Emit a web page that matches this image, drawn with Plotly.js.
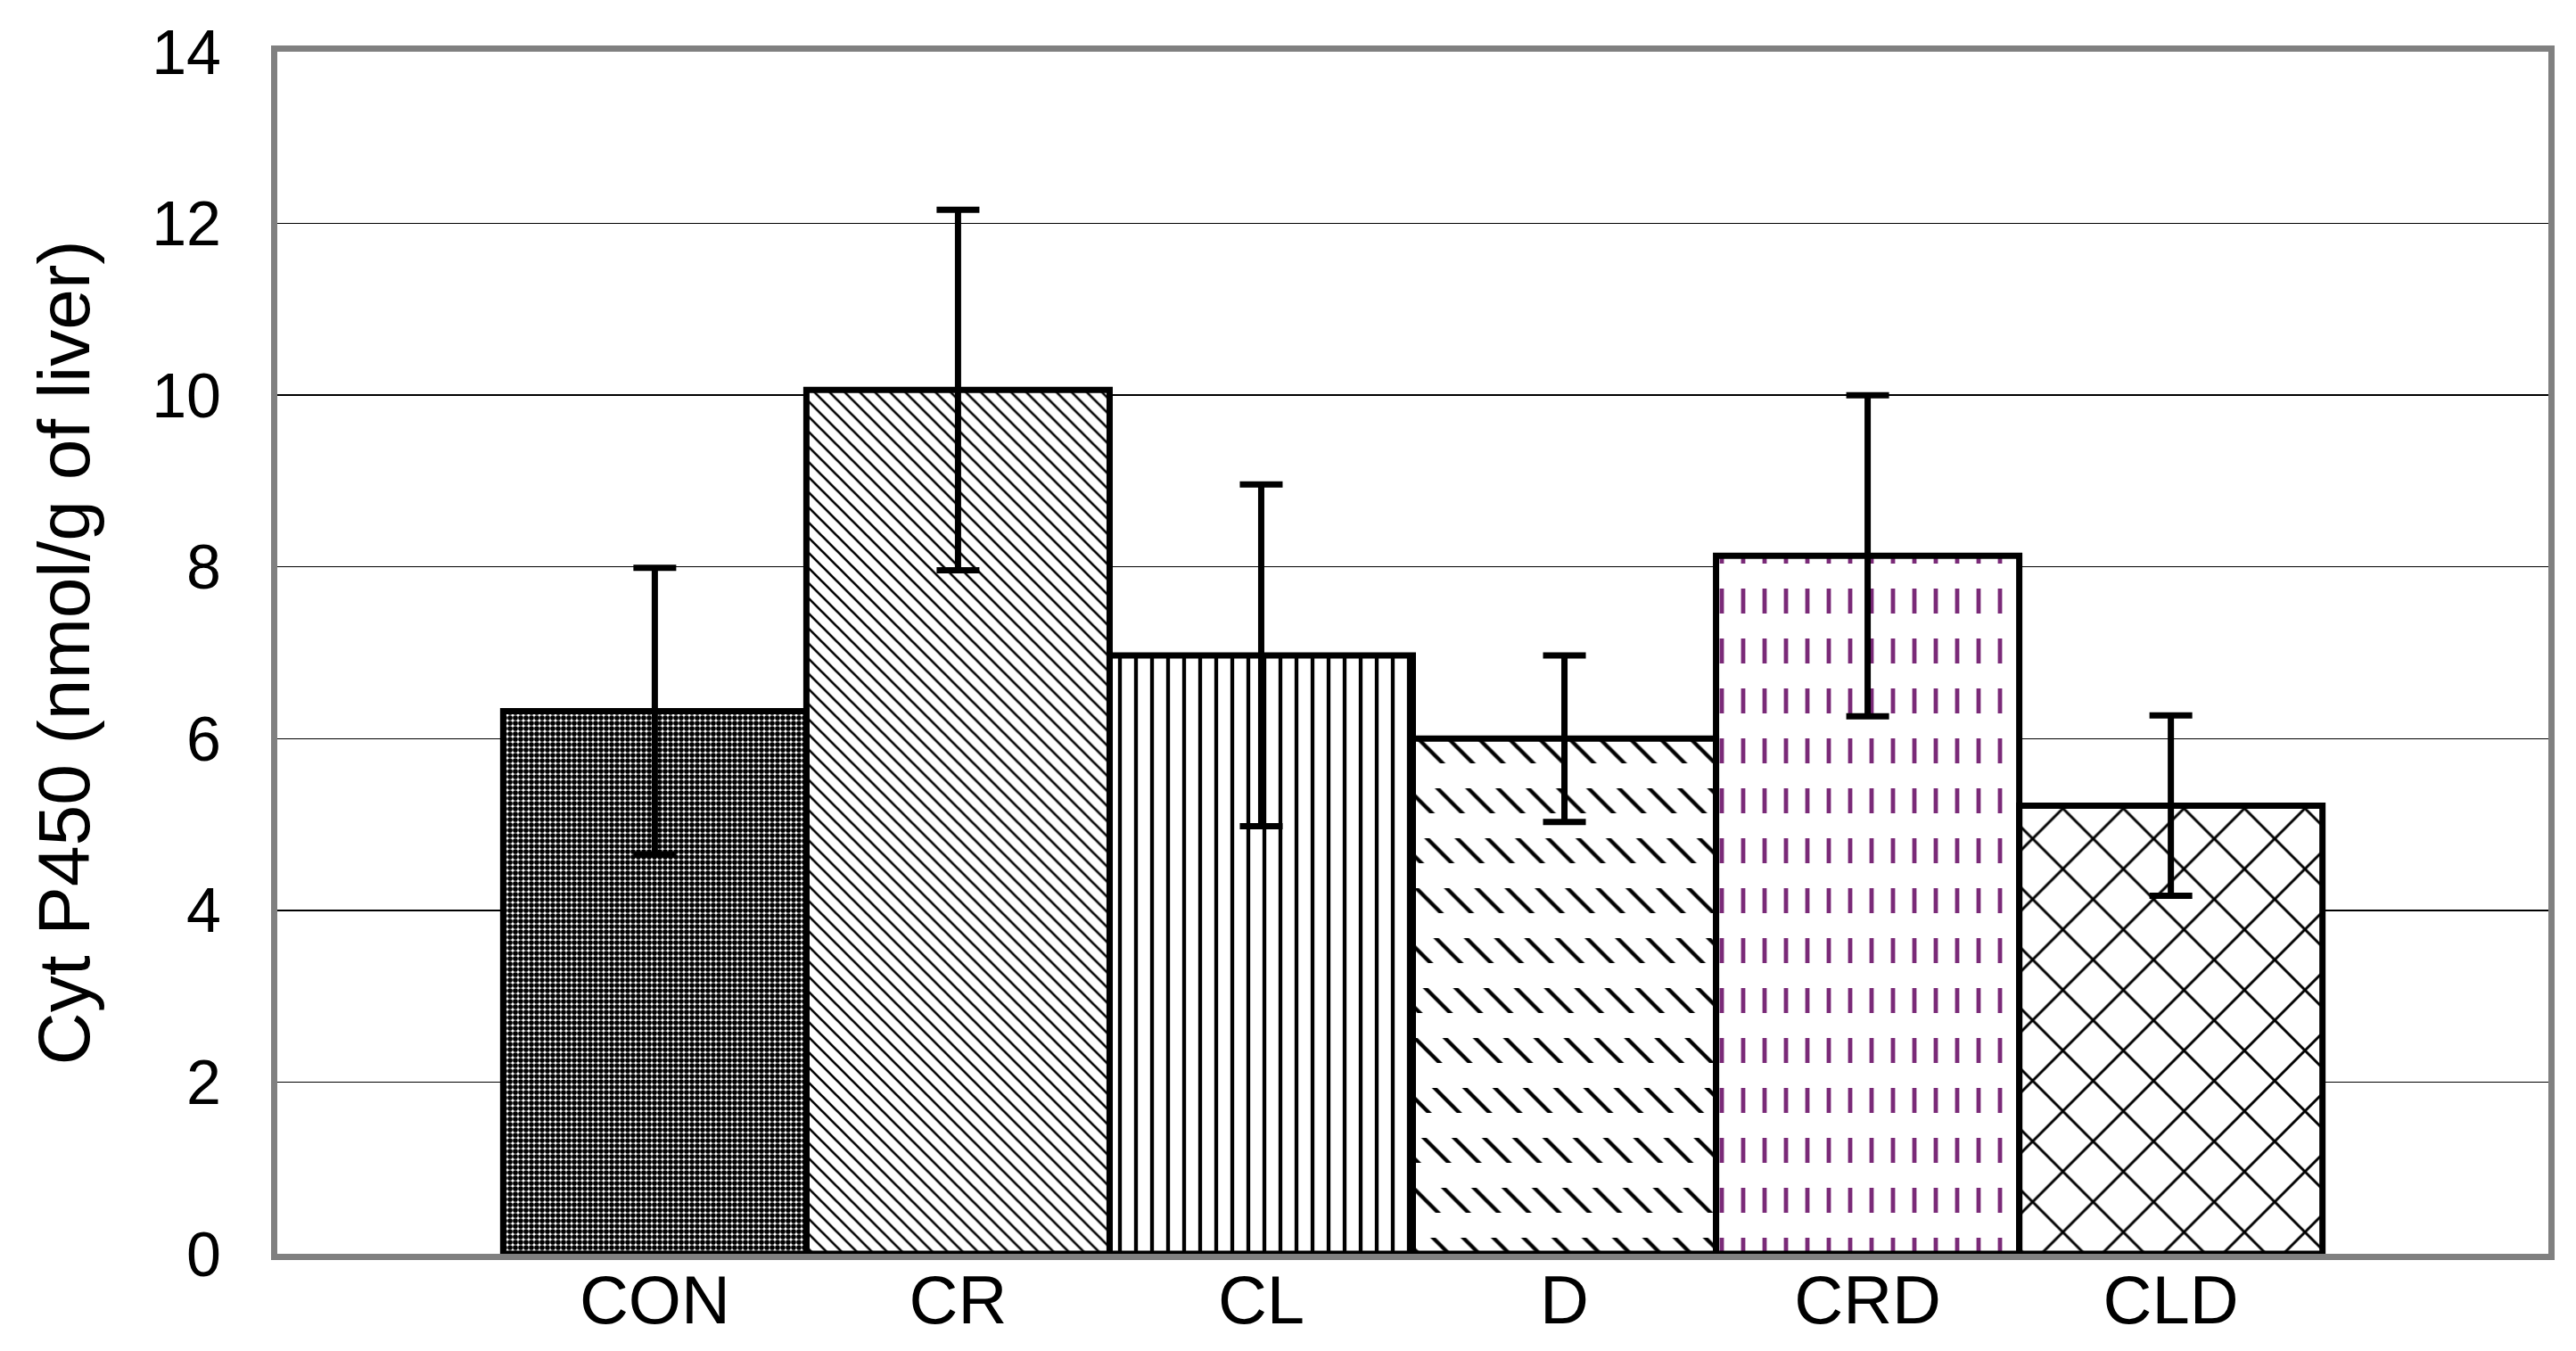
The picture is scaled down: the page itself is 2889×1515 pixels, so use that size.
<!DOCTYPE html>
<html>
<head>
<meta charset="utf-8">
<script src="https://cdn.plot.ly/plotly-3.0.1.min.js"></script>
<style>html,body{margin:0;padding:0;background:#fff;}#chart{width:2889px;height:1515px;}</style>
</head>
<body>
<div id="chart"></div>
<script>
// ---- data ----
const categories = ['CON', 'CR', 'CL', 'D', 'CRD', 'CLD'];
const cytP450 = [6.32, 10.06, 6.97, 6.0, 8.13, 5.22];
const cytP450Err = [1.67, 2.1, 1.99, 0.97, 1.87, 1.05];
const yTickVals = [0, 2, 4, 6, 8, 10, 12, 14];
const yTitle = 'Cyt P450 (nmol/g of liver)';

// ---- styles ----
const FONT = 'Liberation Sans, Arial, sans-serif';
const patShapes = ['.', '\\', '|', '\\', '|', 'x'];
const patSizes = [6, 12, 18, 24, 24, 48];
const patSolid = [0.7, 0.22, 0.24, 0.18, 0.2, 0.12];
const patFg = ['#000', '#000', '#000', '#000', '#7a2a78', '#000'];

// bars that get dashed (banded) patterns
const bandedCats = ['D', 'CRD'];
const bandedIdx = bandedCats.map(c => categories.indexOf(c));

const base = {
  type: 'bar', x: categories, y: cytP450,
  marker: {
    color: '#fff',
    line: {width: 0},
    pattern: {shape: patShapes, size: patSizes, solidity: patSolid,
              fgcolor: patFg, bgcolor: '#fff', fillmode: 'replace'}
  },
  hoverinfo: 'skip', showlegend: false
};

const bands = {
  type: 'bar', x: bandedIdx.map(i => categories[i]), y: bandedIdx.map(i => cytP450[i]),
  marker: {
    color: 'rgba(0,0,0,0)',
    line: {width: 0},
    pattern: {shape: '-', size: 56, solidity: 0.5, fgcolor: '#fff',
              bgcolor: 'rgba(0,0,0,0)', fillmode: 'replace'}
  },
  hoverinfo: 'skip', showlegend: false
};

const outline = {
  type: 'bar', x: categories, y: cytP450,
  marker: {color: 'rgba(0,0,0,0)', line: {color: '#000', width: 7}},
  error_y: {type: 'data', array: cytP450Err, visible: true,
            color: '#000', thickness: 7, width: 24},
  cliponaxis: false,
  hoverinfo: 'skip', showlegend: false
};

const layout = {
  width: 2889, height: 1515,
  margin: {l: 311, r: 31, t: 58, b: 109},
  paper_bgcolor: '#fff', plot_bgcolor: '#fff',
  barmode: 'overlay', bargap: 0,
  font: {family: FONT, color: '#000', size: 72},
  xaxis: {
    type: 'category', range: [-1.245, 6.245],
    showgrid: false, zeroline: false,
    showline: true, mirror: true, linecolor: '#808080', linewidth: 7,
    ticks: '', tickfont: {family: FONT, size: 76, color: '#000'},
    ticklabelstandoff: -20,
    layer: 'below traces', fixedrange: true
  },
  yaxis: {
    range: [0, 14], tickvals: yTickVals,
    showgrid: true, gridcolor: '#000', gridwidth: 1.5,
    zeroline: false,
    showline: true, mirror: true, linecolor: '#808080', linewidth: 7,
    ticks: 'inside', ticklen: 25, tickwidth: 1.5, tickcolor: '#000',
    tickfont: {family: FONT, size: 70, color: '#000'},
    ticklabelstandoff: 42,
    title: {text: yTitle, font: {family: FONT, size: 82, color: '#000'}, standoff: 45},
    layer: 'below traces', fixedrange: true
  }
};

Plotly.newPlot('chart', [base, bands, outline], layout, {staticPlot: true, displayModeBar: false});
</script>
</body>
</html>
